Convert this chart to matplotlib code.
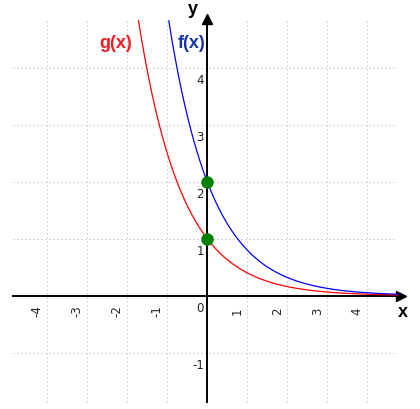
import numpy as np
import matplotlib.pyplot as plt

# data
base = 0.4                 # both curves decay like base**x
g_coef = 1.0               # g(x) = 1 * base**x
f_coef = 2.0               # f(x) = 2 * base**x
dots_x = [0, 0]
dots_y = [1, 2]
x_ticks = [-4, -3, -2, -1, 1, 2, 3, 4]
y_ticks = [-1, 1, 2, 3, 4]
x_tick_labels = ["-4", "-3", "-2", "-1", "1", "2", "3", "4"]
y_tick_labels = ["-1", "1", "2", "3", "4"]

if __name__ == '__main__':
    fig = plt.figure(figsize=(4.2, 4.1), dpi=100)
    ax = fig.add_axes([0, 0, 1, 1])
    ax.set_xlim(-5.18, 5.32)
    ax.set_ylim(-1.988, 5.205)
    ax.axis("off")

    # dotted grid, 1px dots every 3px
    grid_kw = dict(color="#b0b0b0", lw=0.72, ls=(0, (1, 3)), zorder=1)
    for xv in x_ticks:
        ax.plot([xv, xv], [-1.86, 4.83], **grid_kw)
    for yv in y_ticks:
        ax.plot([-4.85, 4.75], [yv, yv], **grid_kw)

    # axes with arrows
    ax.plot([-4.85, 4.9], [0, 0], color="k", lw=1.4, zorder=3)
    ax.plot([0, 0], [-1.86, 4.9], color="k", lw=1.4, zorder=3)
    ax.plot([4.85], [0], marker=">", ms=7, color="k", zorder=4, clip_on=False)
    ax.plot([0], [4.86], marker="^", ms=7, color="k", zorder=4, clip_on=False)

    # curves
    xs = np.linspace(-2.0, 4.77, 600)
    g = g_coef * base ** xs
    f = f_coef * base ** xs
    g = np.where(g <= 4.83, g, np.nan)
    f = np.where(f <= 4.83, f, np.nan)
    ax.plot(xs, g, color="#ff0000", lw=0.9, zorder=5)
    ax.plot(xs, f, color="#0000ff", lw=0.9, zorder=5)

    ax.plot(dots_x, dots_y, "o", color="#008000", ms=8, zorder=6)

    # tick labels
    for xv, lab in zip(x_ticks, x_tick_labels):
        ax.text(xv - 0.25, -0.26, lab, rotation=90, ha="center", va="center",
                fontsize=8.5, color="#222222")
    ax.text(-0.18, -0.2, "0", ha="center", va="center", fontsize=8.5, color="#222222")
    for yv, lab in zip(y_ticks, y_tick_labels):
        ax.text(-0.08, yv - 0.2, lab, ha="right", va="center",
                fontsize=8.5, color="#222222")

    # axis names and curve names
    ax.text(4.9, -0.28, "x", ha="center", va="center", fontsize=13,
            fontweight="bold", family="Liberation Sans")
    ax.text(-0.35, 5.03, "y", ha="center", va="center", fontsize=13,
            fontweight="bold", family="Liberation Sans")
    ax.text(-2.3, 4.45, "g(x)", ha="center", va="center", fontsize=13,
            fontweight="bold", color="#ee1c24", family="Liberation Sans")
    ax.text(-0.38, 4.45, "f(x)", ha="center", va="center", fontsize=13,
            fontweight="bold", color="#1535a8", family="Liberation Sans")

    plt.savefig("out.png", dpi=100)
